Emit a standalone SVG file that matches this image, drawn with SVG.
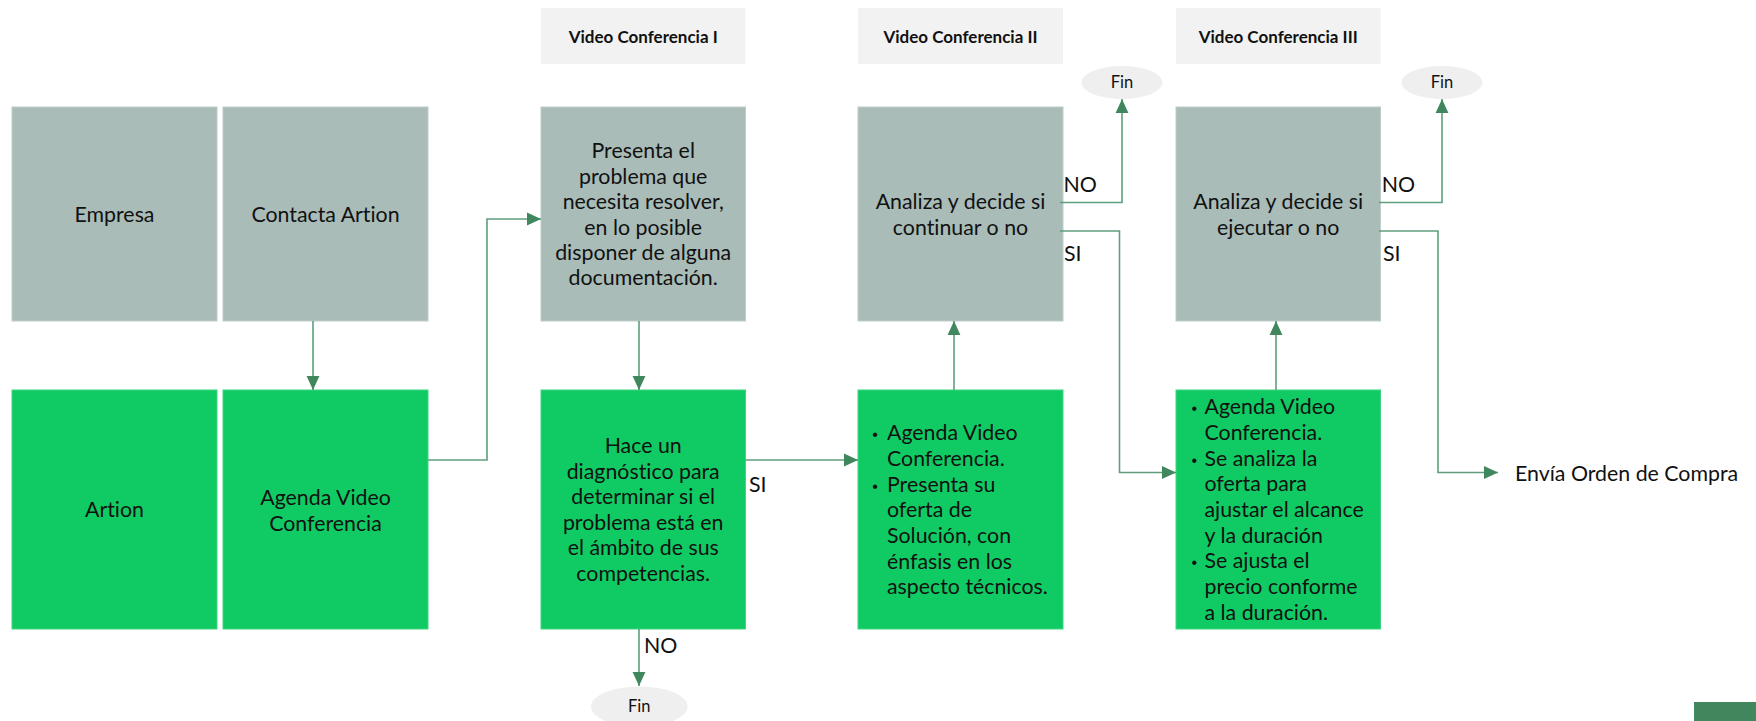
<svg xmlns="http://www.w3.org/2000/svg" width="1756" height="721" viewBox="0 0 1756 721">
<style>
text{font-family:Lato,"Open Sans","Liberation Sans",sans-serif;fill:#111;font-variant-ligatures:none;}
.t{font-size:21.33px;}
.c{text-anchor:middle;}
.h{font-size:17px;font-weight:bold;text-anchor:middle;}
.f{font-size:16.5px;text-anchor:middle;}
.bu{font-family:"Liberation Sans",Arial,sans-serif;font-size:16px;}
.hdr{fill:#f2f2f2;}
.g{fill:#a9bcb8;stroke:#bccdca;stroke-width:1;}
.b{fill:#10cb63;stroke:#3fd67f;stroke-width:1;}
.fin{fill:#efefef;}
.ln{fill:none;stroke:#5f9e7c;stroke-width:1.6;}
</style>
<defs>
<marker id="ar" markerUnits="userSpaceOnUse" markerWidth="14" markerHeight="14" viewBox="0 0 12 12" refX="12" refY="6" orient="auto">
<path d="M0,0.5 L12,6 L0,11.5 z" fill="#41875d"/>
</marker>
</defs>
<rect x="1694" y="702" width="62" height="19" fill="#41875d"/>

<g id="header1"><rect class="hdr" x="541" y="8" width="204.5" height="56"/><text class="h" x="643.2" y="42.5">Video Conferencia I</text></g>
<g id="header2"><rect class="hdr" x="858" y="8" width="205" height="56"/><text class="h" x="960.5" y="42.5">Video Conferencia II</text></g>
<g id="header3"><rect class="hdr" x="1176" y="8" width="204.5" height="56"/><text class="h" x="1278.2" y="42.5">Video Conferencia III</text></g>

<g id="empresa"><rect class="g" x="12" y="107" width="205" height="214"/><text class="t c" x="114.5" y="221.7">Empresa</text></g>
<g id="contacta"><rect class="g" x="223" y="107" width="205" height="214"/><text class="t c" x="325.5" y="221.7">Contacta Artion</text></g>
<g id="presenta"><rect class="g" x="541" y="107" width="204.5" height="214"/>
<text class="t c" x="643.2" y="158.3">Presenta el</text>
<text class="t c" x="643.2" y="183.7">problema que</text>
<text class="t c" x="643.2" y="209.1">necesita resolver,</text>
<text class="t c" x="643.2" y="234.5">en lo posible</text>
<text class="t c" x="643.2" y="259.9">disponer de alguna</text>
<text class="t c" x="643.2" y="285.3">documentación.</text></g>
<g id="analiza2"><rect class="g" x="858" y="107" width="205" height="214"/>
<text class="t c" x="960.5" y="208.5">Analiza y decide si</text>
<text class="t c" x="960.5" y="235">continuar o no</text></g>
<g id="analiza3"><rect class="g" x="1176" y="107" width="204.5" height="214"/>
<text class="t c" x="1278.2" y="208.5">Analiza y decide si</text>
<text class="t c" x="1278.2" y="235">ejecutar o no</text></g>

<g id="artion"><rect class="b" x="12" y="390" width="205" height="239"/><text class="t c" x="114.5" y="517">Artion</text></g>
<g id="agenda"><rect class="b" x="223" y="390" width="205" height="239"/>
<text class="t c" x="325.5" y="505">Agenda Video</text>
<text class="t c" x="325.5" y="531">Conferencia</text></g>
<g id="diagnostico"><rect class="b" x="541" y="390" width="204.5" height="239"/>
<text class="t c" x="643.2" y="453">Hace un</text>
<text class="t c" x="643.2" y="478.6">diagnóstico para</text>
<text class="t c" x="643.2" y="504.2">determinar si el</text>
<text class="t c" x="643.2" y="529.8">problema está en</text>
<text class="t c" x="643.2" y="555.4">el ámbito de sus</text>
<text class="t c" x="643.2" y="581">competencias.</text></g>
<g id="oferta"><rect class="b" x="858" y="390" width="205" height="239"/>
<text class="bu" x="872.2" y="440">•</text><text class="t" x="887" y="440">Agenda Video</text>
<text class="t" x="887" y="466">Conferencia.</text>
<text class="bu" x="872.2" y="491.5">•</text><text class="t" x="887" y="491.5">Presenta su</text>
<text class="t" x="887" y="517">oferta de</text>
<text class="t" x="887" y="543">Solución, con</text>
<text class="t" x="887" y="568.5">énfasis en los</text>
<text class="t" x="887" y="594">aspecto técnicos.</text></g>
<g id="ajuste"><rect class="b" x="1176" y="390" width="204.5" height="239"/>
<text class="bu" x="1191.5" y="414">•</text><text class="t" x="1204.5" y="414">Agenda Video</text>
<text class="t" x="1204.5" y="440">Conferencia.</text>
<text class="bu" x="1191.5" y="465.5">•</text><text class="t" x="1204.5" y="465.5">Se analiza la</text>
<text class="t" x="1204.5" y="491">oferta para</text>
<text class="t" x="1204.5" y="517">ajustar el alcance</text>
<text class="t" x="1204.5" y="542.5">y la duración</text>
<text class="bu" x="1191.5" y="568">•</text><text class="t" x="1204.5" y="568">Se ajusta el</text>
<text class="t" x="1204.5" y="594">precio conforme</text>
<text class="t" x="1204.5" y="620">a la duración.</text></g>

<g id="fin1"><ellipse class="fin" cx="1122" cy="82.5" rx="40.5" ry="16.5"/><text class="f" x="1122" y="88.3">Fin</text></g>
<g id="fin2"><ellipse class="fin" cx="1442" cy="82.5" rx="40.5" ry="16.5"/><text class="f" x="1442" y="88.3">Fin</text></g>
<g id="fin3"><ellipse class="fin" cx="639.3" cy="706.5" rx="48.3" ry="20"/><text class="f" x="639.3" y="711.7">Fin</text></g>
<g id="compra"><text class="t" x="1515" y="480.5">Envía Orden de Compra</text></g>

<g id="connectors">
<path class="ln" marker-end="url(#ar)" d="M313,321 V390"/>
<path class="ln" marker-end="url(#ar)" d="M428,460 H487 V219 H541"/>
<path class="ln" marker-end="url(#ar)" d="M639,321 V390"/>
<path class="ln" marker-end="url(#ar)" d="M745.5,460 H858"/>
<path class="ln" marker-end="url(#ar)" d="M639,629 V686"/>
<path class="ln" marker-end="url(#ar)" d="M954,390 V321"/>
<path class="ln" marker-end="url(#ar)" d="M1060,202.5 H1122 V99"/>
<path class="ln" marker-end="url(#ar)" d="M1060,231 H1119.5 V472.5 H1176"/>
<path class="ln" marker-end="url(#ar)" d="M1276,390 V321"/>
<path class="ln" marker-end="url(#ar)" d="M1379,202.5 H1442 V99"/>
<path class="ln" marker-end="url(#ar)" d="M1379,231 H1438 V472.5 H1498"/>
<text class="t" x="749" y="492">SI</text>
<text class="t" x="644" y="653.3">NO</text>
<text class="t" x="1063.5" y="192.3">NO</text>
<text class="t" x="1064" y="260.5">SI</text>
<text class="t" x="1381.7" y="192.3">NO</text>
<text class="t" x="1383" y="260.5">SI</text>
</g>
</svg>
